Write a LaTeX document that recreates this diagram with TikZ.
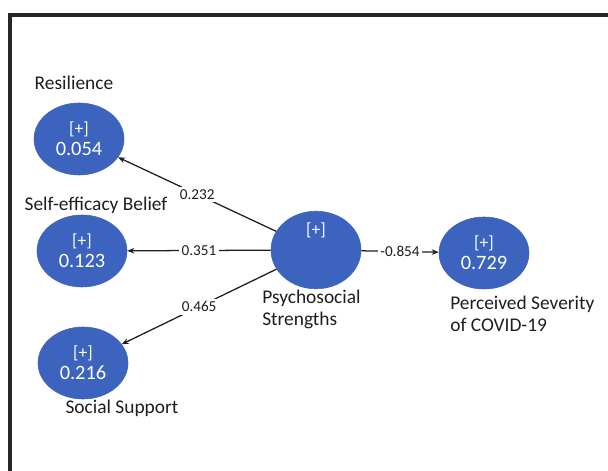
\documentclass[tikz,border=0pt]{standalone}
\usepackage{fontspec}
\setmainfont{Carlito}
\usetikzlibrary{shapes.geometric,arrows.meta}
\definecolor{lvblue}{RGB}{60,100,190}
\definecolor{txtgray}{RGB}{30,30,30}
\newcommand{\plusbox}{{\fontsize{12.5}{13}\selectfont[+]}}
\tikzset{
  lv/.style={ellipse,fill=lvblue,draw=lvblue,minimum width=2.25cm,minimum height=1.8cm,
    text=white,align=center,font=\fontsize{14.5}{15}\selectfont,inner sep=0pt},
  lvname/.style={text=txtgray,font=\fontsize{13.8}{15.6}\selectfont,inner sep=0pt},
  path/.style={-{Stealth[length=5pt,width=4pt]},line width=0.9pt,draw=txtgray},
  coef/.style={fill=white,text=txtgray,font=\fontsize{10.8}{12}\selectfont,inner sep=2pt}
}
\begin{document}
\begin{tikzpicture}[x=0.025cm,y=-0.025cm]
\useasboundingbox (0,0) rectangle (608,471);
\draw[line width=2.2pt,draw=black!85] (10,15) rectangle (640,500);

% latent variables
\node[lv] (res) at (79,139) {\plusbox\\0.054};
\node[lv] (seb) at (82,251) {\plusbox\\0.123};
\node[lv] (soc) at (83,363) {\plusbox\\0.216};
\node[lv] (psy) at (316,250) {\plusbox\\[15pt]~};
\node[lv] (per) at (484,253) {\plusbox\\0.729};

% names
\node[lvname] (resname) at (74,83) {Resilience};
\node[lvname] (sebname) at (96,205) {Self-efficacy Belief};
\node[lvname] (socname) at (122,408) {Social Support};
\node[lvname,align=left,anchor=north west] (psyname) at (262,290) {Psychosocial\\Strengths};
\node[lvname,align=left,anchor=north west] (pername) at (450,296) {Perceived Severity\\of COVID-19};

% paths
\draw[path] (psy) -- node[coef] {0.232} (res);
\draw[path] (psy) -- node[coef] {0.351} (seb);
\draw[path] (psy) -- node[coef] {0.465} (soc);
\draw[path] (psy) -- node[coef] {-0.854} (per);
\end{tikzpicture}
\end{document}
